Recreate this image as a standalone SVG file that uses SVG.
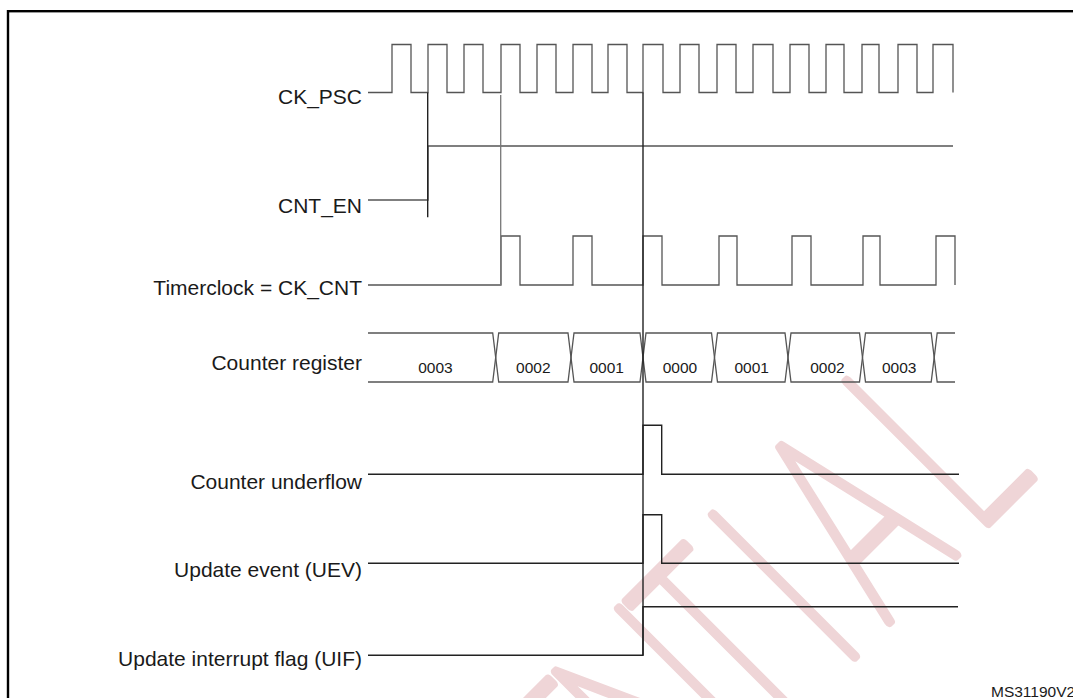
<svg xmlns="http://www.w3.org/2000/svg" width="1073" height="698" viewBox="0 0 1073 698">
<style>
.lbl{font-family:"Liberation Sans",Arial,sans-serif;font-size:21px;fill:#1a1a1a;text-anchor:end}
.val{font-family:"Liberation Sans",Arial,sans-serif;font-size:15.5px;fill:#1a1a1a;text-anchor:middle}
.w{fill:none;stroke:#555;stroke-width:1.3}
.d{fill:none;stroke:#222;stroke-width:1.4}
.g{fill:none;stroke:#777;stroke-width:1.3}
.wm{font-family:Inter,"Liberation Sans",sans-serif;font-weight:100;font-size:275px;fill:#efd5d7;stroke:#efd5d7;stroke-width:10;stroke-linejoin:round;stroke-linecap:round;text-anchor:middle}
</style>
<rect width="1073" height="698" fill="#fff"/>
<g id="watermark">
<text class="wm" transform="translate(984,527) rotate(-45) scale(0.62,1)" x="-1580 -1420 -1258 -1113 -992 -871 -726 -581 -427 -295 -140 53" y="0">CONFIDENTIAL</text>
</g>
<rect id="frame" x="8" y="11.2" width="1200" height="900" fill="none" stroke="#000" stroke-width="2.4"/>
<g id="labels">
<text class="lbl" x="362" y="104">CK_PSC</text>
<text class="lbl" x="362" y="212.5">CNT_EN</text>
<text class="lbl" x="362" y="294.5">Timerclock = CK_CNT</text>
<text class="lbl" x="362" y="369.5">Counter register</text>
<text class="lbl" x="362" y="489">Counter underflow</text>
<text class="lbl" x="362" y="577">Update event (UEV)</text>
<text class="lbl" x="362" y="665.5">Update interrupt flag (UIF)</text>
</g>
<g id="connectors">
<path id="ck_psc" class="w" d="M368 92.5 H392 V44.5 H411 V92.5 H428 V44.5 H447 V92.5 H464 V44.5 H483 V92.5 H501 V44.5 H520 V92.5 H537 V44.5 H556 V92.5 H573 V44.5 H592 V92.5 H608 V44.5 H627 V92.5 H643 V44.5 H663 V92.5 H680 V44.5 H699 V92.5 H717 V44.5 H736 V92.5 H753 V44.5 H773 V92.5 H790 V44.5 H809 V92.5 H826 V44.5 H844 V92.5 H862 V44.5 H879 V92.5 H898 V44.5 H917 V92.5 H933 V44.5 H953 V92.5"/>
<path id="cnt_en" class="w" d="M368 200 H428 V146 H953"/>
<path id="timerclock" class="w" d="M368 285 H501 V236 H520 V285 H573 V236 H592 V285 H643 V236 H662 V285 H719 V236 H737 V285 H792 V236 H811 V285 H863 V236 H880 V285 H936 V236 H955 V285"/>
<path id="bus_a" class="w" d="M368 333 H492.7 L498.7 382 H568 L574 333 H640 L646 382 H711.5 L717.5 333 H785 L791 382 H859.5 L865.5 333 H931.2 L937.2 382 H955"/>
<path id="bus_b" class="w" d="M368 382 H492.7 L498.7 333 H568 L574 382 H640 L646 333 H711.5 L717.5 382 H785 L791 333 H859.5 L865.5 382 H931.2 L937.2 333 H955"/>
<path id="underflow" class="d" d="M368 474.3 H643 V425.3 H661.7 V474.3 H959"/>
<path id="uev" class="d" d="M368 563.3 H643 V514.7 H661.7 V563.3 H959"/>
<path id="uif" class="d" d="M368 655.3 H643 V606.7 H958"/>
<path id="mark1" class="d" d="M427.7 92.5 V217.3"/>
<path id="mark2" class="g" d="M500.7 95 V285"/>
<path id="mark3" class="d" d="M643 92.5 V655.3"/>
</g>
<g id="values">
<text class="val" x="435.5" y="373">0003</text>
<text class="val" x="533.3" y="373">0002</text>
<text class="val" x="606.7" y="373">0001</text>
<text class="val" x="680" y="373">0000</text>
<text class="val" x="751.7" y="373">0001</text>
<text class="val" x="827.5" y="373">0002</text>
<text class="val" x="899.2" y="373">0003</text>
</g>
<text id="ref" x="991" y="697" font-family="'Liberation Sans',Arial,sans-serif" font-size="15.5" fill="#1a1a1a">MS31190V2</text>
</svg>
